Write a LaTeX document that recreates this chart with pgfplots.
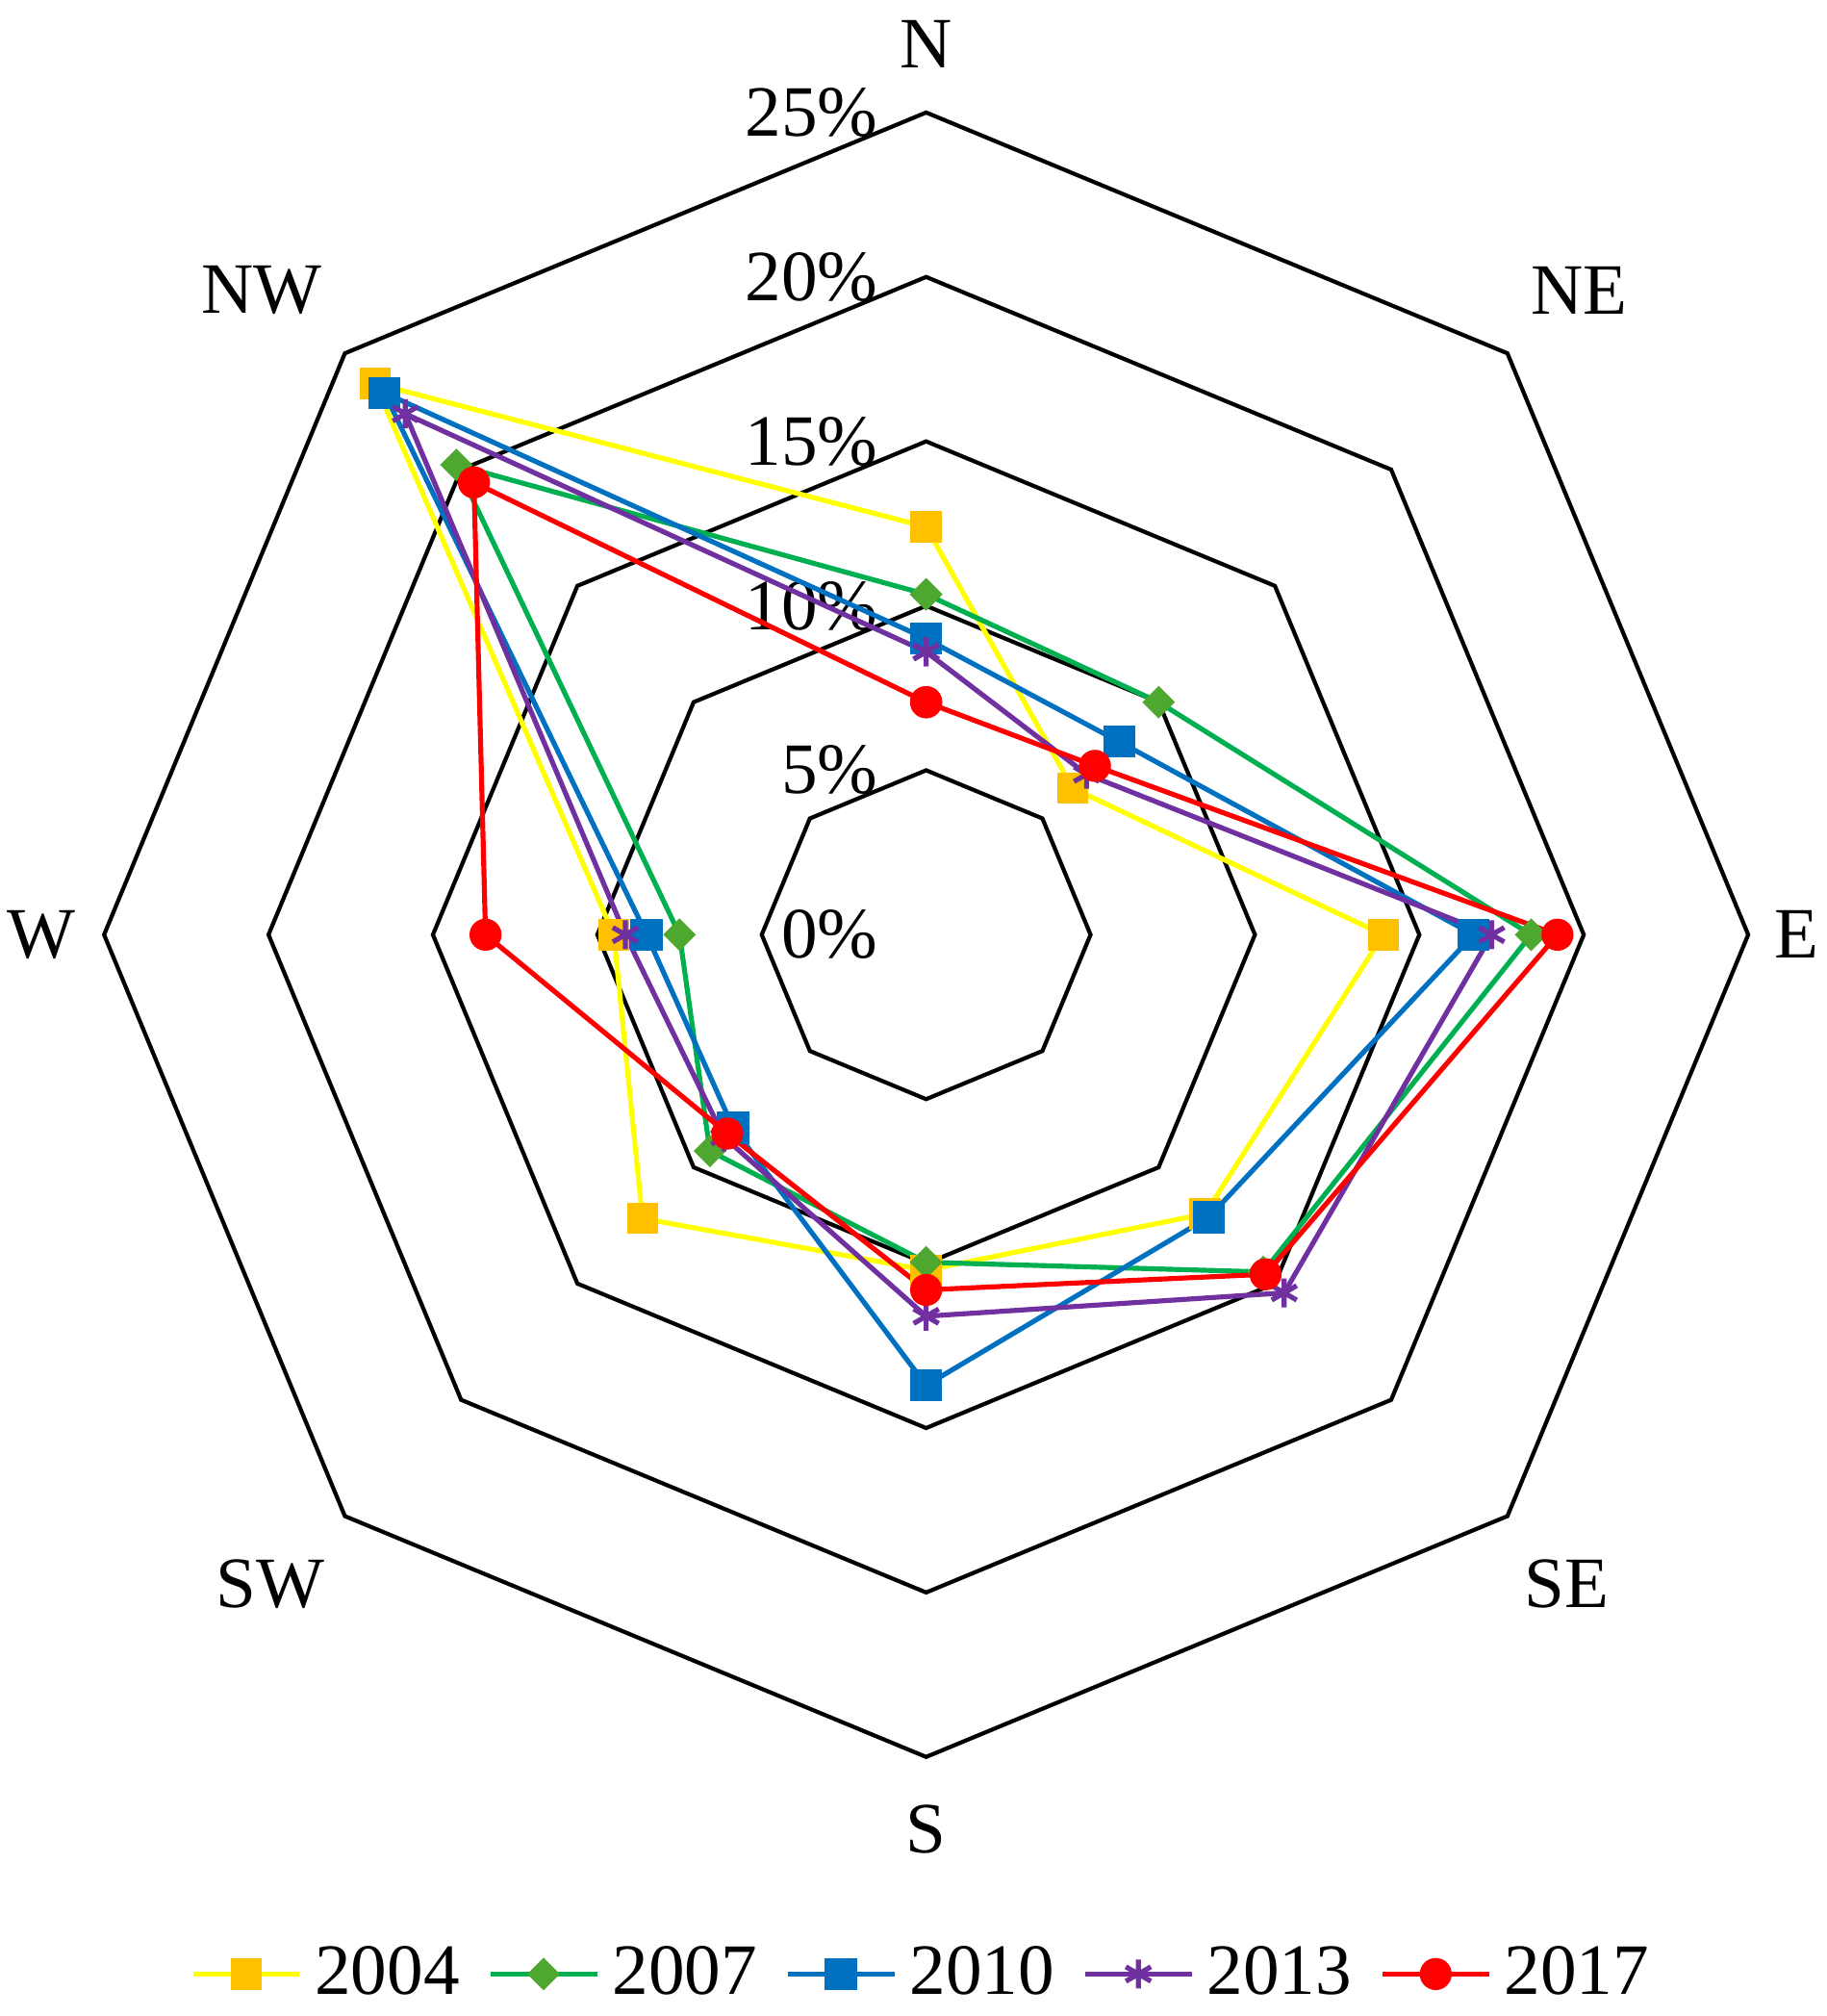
\documentclass[border=0pt]{standalone}
\usepackage{fontspec}
\setmainfont{Liberation Serif}
\usepackage{pgfplots}
\pgfplotsset{compat=1.18}
\usepgfplotslibrary{polar}

\definecolor{c04line}{HTML}{FFFF00}
\definecolor{c04mark}{HTML}{FFC000}
\definecolor{c07line}{HTML}{00B050}
\definecolor{c07mark}{HTML}{4EA72E}
\definecolor{c10}{HTML}{0070C0}
\definecolor{c13}{HTML}{7030A0}
\definecolor{c17}{HTML}{FF0000}

\begin{document}
\begin{tikzpicture}
\begin{polaraxis}[
  at={(0,0)}, anchor=center,
  width=12.79cm, height=12.79cm, scale only axis,
  ymin=0, ymax=25, hide axis, clip=false,
  font=\fontsize{16}{19}\selectfont,
  legend columns=5,
  legend style={at={(0.5,-0.132)}, anchor=center, draw=none, fill=none,
    font=\fontsize{16}{19}\selectfont,
    nodes={inner sep=0.1cm},
    /tikz/every even column/.append style={column sep=0.12cm}},
  legend image code/.code={\draw[mark repeat=2,mark phase=2]
    plot coordinates {(0cm,0cm)(0.415cm,0cm)(0.83cm,0cm)};},
  every axis plot/.append style={line width=1.1pt},
]
% octagon rings
\addplot[black, line width=0.9pt, mark=none, forget plot] coordinates {(90,5)(45,5)(0,5)(-45,5)(-90,5)(-135,5)(-180,5)(-225,5)(-270,5)(-315,5)};
\addplot[black, line width=0.9pt, mark=none, forget plot] coordinates {(90,10)(45,10)(0,10)(-45,10)(-90,10)(-135,10)(-180,10)(-225,10)(-270,10)(-315,10)};
\addplot[black, line width=0.9pt, mark=none, forget plot] coordinates {(90,15)(45,15)(0,15)(-45,15)(-90,15)(-135,15)(-180,15)(-225,15)(-270,15)(-315,15)};
\addplot[black, line width=0.9pt, mark=none, forget plot] coordinates {(90,20)(45,20)(0,20)(-45,20)(-90,20)(-135,20)(-180,20)(-225,20)(-270,20)(-315,20)};
\addplot[black, line width=0.9pt, mark=none, forget plot] coordinates {(90,25)(45,25)(0,25)(-45,25)(-90,25)(-135,25)(-180,25)(-225,25)(-270,25)(-315,25)};

% ring labels
\node[anchor=east, inner sep=0pt, xshift=-0.37cm] at (axis cs:90,0) {0\%};
\node[anchor=east, inner sep=0pt, xshift=-0.37cm] at (axis cs:90,5) {5\%};
\node[anchor=east, inner sep=0pt, xshift=-0.37cm] at (axis cs:90,10) {10\%};
\node[anchor=east, inner sep=0pt, xshift=-0.37cm] at (axis cs:90,15) {15\%};
\node[anchor=east, inner sep=0pt, xshift=-0.37cm] at (axis cs:90,20) {20\%};
\node[anchor=east, inner sep=0pt, xshift=-0.37cm] at (axis cs:90,25) {25\%};

% direction labels
\node[inner sep=0pt, yshift=0.53cm] at (axis cs:90,25) {N};
\node[inner sep=0pt, xshift=0.56cm, yshift=0.49cm] at (axis cs:45,25) {NE};
\node[inner sep=0pt, xshift=0.38cm] at (axis cs:0,25) {E};
\node[inner sep=0pt, xshift=0.46cm, yshift=-0.53cm] at (axis cs:-45,25) {SE};
\node[inner sep=0pt, yshift=-0.56cm] at (axis cs:-90,25) {S};
\node[inner sep=0pt, xshift=-0.58cm, yshift=-0.53cm] at (axis cs:-135,25) {SW};
\node[inner sep=0pt, xshift=-0.49cm] at (axis cs:180,25) {W};
\node[inner sep=0pt, xshift=-0.65cm, yshift=0.49cm] at (axis cs:135,25) {NW};

% 2004
\addplot[color=c04line, mark=square*, mark size=3.2pt,
  mark options={fill=c04mark, draw=c04mark, line width=0.5pt}]
  coordinates {(90,12.4)(45,6.3)(0,13.9)(-45,12.0)(-90,10.2)(-135,12.2)(-180,9.5)(-225,23.7)(-270,12.4)};
% 2007
\addplot[color=c07line, mark=square*, mark size=2.3pt,
  mark options={fill=c07mark, draw=c07mark, rotate=45, line width=0.5pt}]
  coordinates {(90,10.35)(45,10.0)(0,18.4)(-45,14.5)(-90,9.96)(-135,9.3)(-180,7.5)(-225,20.2)(-270,10.35)};
% 2010
\addplot[color=c10, mark=square*, mark size=3.3pt,
  mark options={fill=c10, draw=c10, line width=0.5pt}]
  coordinates {(90,9.0)(45,8.3)(0,16.65)(-45,12.15)(-90,13.7)(-135,8.3)(-180,8.5)(-225,23.3)(-270,9.0)};
% 2013
\addplot[color=c13, mark=asterisk, mark size=3.2pt,
  mark options={draw=c13, line width=1.1pt}]
  coordinates {(90,8.6)(45,6.9)(0,17.2)(-45,15.4)(-90,11.6)(-135,8.7)(-180,9.15)(-225,22.4)(-270,8.6)};
% 2017
\addplot[color=c17, mark=*, mark size=3.3pt,
  mark options={fill=c17, draw=c17, line width=0.5pt}]
  coordinates {(90,7.07)(45,7.26)(0,19.2)(-45,14.6)(-90,10.8)(-135,8.55)(-180,13.4)(-225,19.45)(-270,7.07)};

\legend{2004,2007,2010,2013,2017}
\end{polaraxis}
\pgfresetboundingbox
\path (-7.205,-8.41) rectangle (7.005,7.27);
\end{tikzpicture}
\end{document}
